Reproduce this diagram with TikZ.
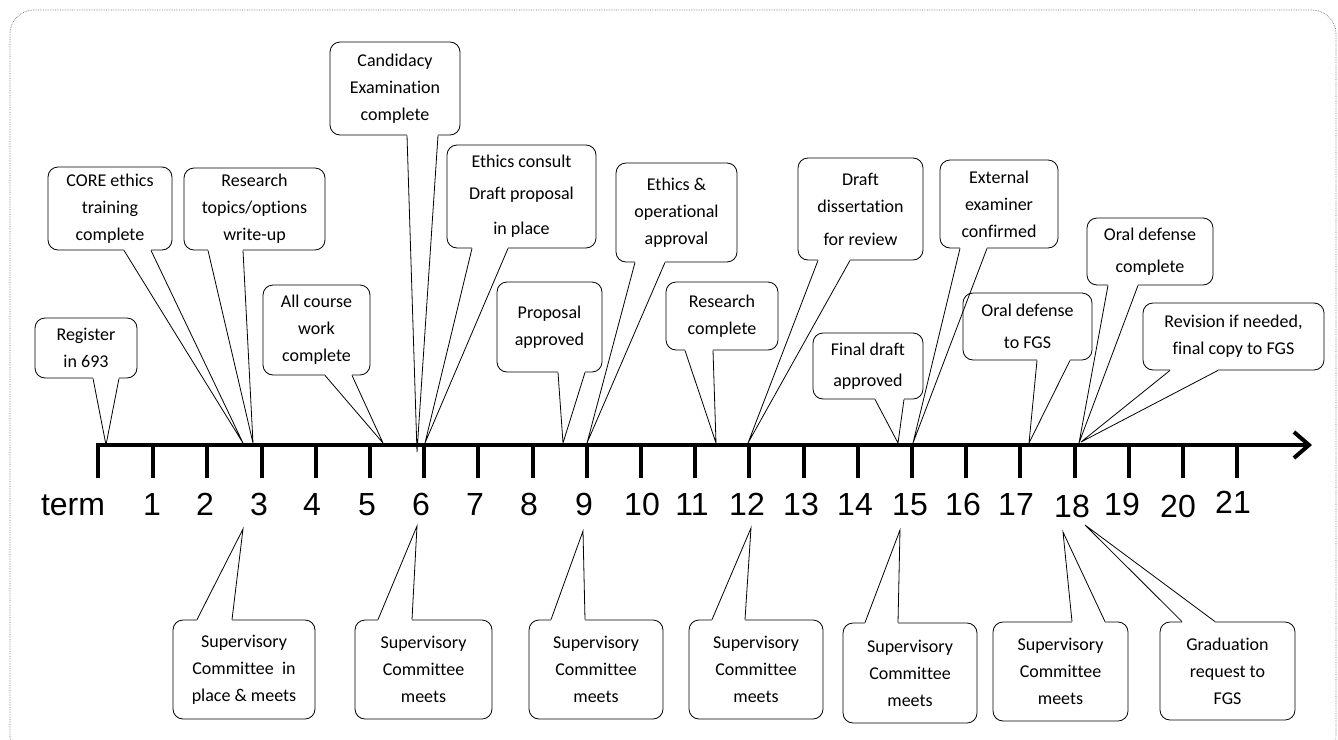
\documentclass[tikz,border=0pt]{standalone}
\usepackage{fontspec}
\setmainfont{Carlito}[Ligatures=CommonOff]
\newfontfamily\termfont{Liberation Sans}
\usetikzlibrary{arrows.meta}

\tikzset{
  bubble/.style={draw, rounded corners=10pt, fill=white, align=center, inner sep=0pt,
    line width=0.8pt, font=\fontsize{18}{27}\selectfont},
  gap/.style={draw=white, line width=2.4pt},
  ptr/.style={line width=0.8pt},
  num/.style={anchor=base, inner sep=0pt, font=\termfont\fontsize{32}{32}\selectfont},
  axis/.style={line width=4pt},
}

\begin{document}
\begin{tikzpicture}[x=1pt, y=-1pt]
  \useasboundingbox (0,0) rectangle (1338,739);
  \begin{scope}
    \clip (0,0) rectangle (1338,739);
    \draw[black!55, densely dotted, line width=0.7pt, rounded corners=24pt] (10,10) rectangle (1336,760);
  \end{scope}

  \draw[axis, -{Straight Barb[length=15pt,width=26pt]}] (98,478) -- (98,445) -- (1312,445);
  \foreach \k in {1,...,21}
    \draw[axis] (99+54.2*\k,447) -- (99+54.2*\k,478);

  \node[num] (term) at (73,515) {term};
  \foreach \k/\x/\y in {1/152/515, 2/205/515, 3/259/515, 4/312/515, 5/367/515, 6/421/515,
      7/475/515, 8/529/515, 9/584/515, 10/642/515, 11/692/515, 12/747/515, 13/801/515,
      14/855/515, 15/910/515, 16/963/515, 17/1016/515, 18/1072/517, 19/1122/515,
      20/1178/517, 21/1233/513}
    \node[num] (n\k) at (\x,\y) {\k};

  \coordinate (treg) at (106,445);
  \coordinate (tcore) at (243,443);
  \coordinate (ttopics) at (253,443);
  \coordinate (tcourse) at (383,443);
  \coordinate (tcand) at (417,452);
  \coordinate (tconsult) at (425,443);
  \coordinate (tprop) at (563,443);
  \coordinate (topapp) at (587,443);
  \coordinate (trescomp) at (716,443);
  \coordinate (tdraft) at (748,443);
  \coordinate (tfinal) at (898,443);
  \coordinate (textern) at (913,443);
  \coordinate (toralfgs) at (1029,443);
  \coordinate (toralcomp) at (1079,443);
  \coordinate (trevision) at (1081,442);
  \coordinate (tsup3) at (243,529);
  \coordinate (tsup6) at (417,526);
  \coordinate (tsup9) at (583,531);
  \coordinate (tsup12) at (751,528);
  \coordinate (tsup15) at (900,530);
  \coordinate (tsup18) at (1063,532);
  \coordinate (tgrad) at (1085,525);

  \node[bubble, minimum width=102, minimum height=60] (reg) at (86,348) {Register\\in 693};
  \node[bubble, minimum width=124, minimum height=83] (core) at (110,208.5) {CORE ethics\\training\\complete};
  \node[bubble, minimum width=141, minimum height=82] (topics) at (254.5,209) {Research\\topics/options\\write-up};
  \node[bubble, minimum width=107, minimum height=90] (course) at (316.5,330) {All course\\work\\complete};
  \node[bubble, minimum width=130, minimum height=93] (cand) at (395,88.5) {Candidacy\\Examination\\complete};
  \node[bubble, minimum width=149, minimum height=103] (consult) at (521.5,196.5) {Ethics consult\\[5pt]Draft proposal\\[8pt]in place};
  \node[bubble, minimum width=105, minimum height=90] (prop) at (549.5,327) {Proposal\\approved};
  \node[bubble, minimum width=121, minimum height=99] (opapp) at (676.5,212.5) {Ethics \&\\operational\\approval};
  \node[bubble, minimum width=112, minimum height=68] (rescomp) at (722,316) {Research\\complete};
  \node[bubble, minimum width=125, minimum height=102] (draft) at (860.5,209) {Draft\\dissertation\\[6pt]for review};
  \node[bubble, minimum width=110, minimum height=66] (final) at (868,366) {Final draft\\[4pt]approved};
  \node[bubble, minimum width=118, minimum height=88] (extern) at (999,204) {External\\examiner\\confirmed};
  \node[bubble, minimum width=129, minimum height=67] (oralfgs) at (1027.5,326.5) {Oral defense\\[5pt]to FGS};
  \node[bubble, minimum width=126, minimum height=67] (oralcomp) at (1150,251.5) {Oral defense\\[5pt]complete};
  \node[bubble, minimum width=181, minimum height=67] (revision) at (1233.5,336.5) {Revision if needed,\\final copy to FGS};

  \node[bubble, minimum width=142, minimum height=99] (sup3) at (244,669.5) {Supervisory\\Committee\ \ in\\place \& meets};
  \node[bubble, minimum width=137, minimum height=99] (sup6) at (423.5,669.5) {Supervisory\\Committee\\meets};
  \node[bubble, minimum width=134, minimum height=99] (sup9) at (596,669.5) {Supervisory\\Committee\\meets};
  \node[bubble, minimum width=134, minimum height=99] (sup12) at (756,669.5) {Supervisory\\Committee\\meets};
  \node[bubble, minimum width=134, minimum height=100] (sup15) at (910,673) {Supervisory\\Committee\\meets};
  \node[bubble, minimum width=135, minimum height=99] (sup18) at (1060.5,671.5) {Supervisory\\Committee\\meets};
  \node[bubble, minimum width=135, minimum height=98] (grad) at (1227.5,671) {Graduation\\request to\\FGS};

  \path[gap] (93,0 |- reg.south) -- (119,0 |- reg.south);
  \draw[ptr] (93,0 |- reg.south) -- (treg) -- (119,0 |- reg.south);
  \path[gap] (124,0 |- core.south) -- (151,0 |- core.south);
  \draw[ptr] (124,0 |- core.south) -- (tcore) -- (151,0 |- core.south);
  \path[gap] (208,0 |- topics.south) -- (243,0 |- topics.south);
  \draw[ptr] (208,0 |- topics.south) -- (ttopics) -- (243,0 |- topics.south);
  \path[gap] (325,0 |- course.south) -- (352,0 |- course.south);
  \draw[ptr] (325,0 |- course.south) -- (tcourse) -- (352,0 |- course.south);
  \path[gap] (407,0 |- cand.south) -- (438,0 |- cand.south);
  \draw[ptr] (407,0 |- cand.south) -- (tcand) -- (438,0 |- cand.south);
  \path[gap] (472,0 |- consult.south) -- (508,0 |- consult.south);
  \draw[ptr] (472,0 |- consult.south) -- (tconsult) -- (508,0 |- consult.south);
  \path[gap] (558,0 |- prop.south) -- (585,0 |- prop.south);
  \draw[ptr] (558,0 |- prop.south) -- (tprop) -- (585,0 |- prop.south);
  \path[gap] (635,0 |- opapp.south) -- (665,0 |- opapp.south);
  \draw[ptr] (635,0 |- opapp.south) -- (topapp) -- (665,0 |- opapp.south);
  \path[gap] (685,0 |- rescomp.south) -- (713,0 |- rescomp.south);
  \draw[ptr] (685,0 |- rescomp.south) -- (trescomp) -- (713,0 |- rescomp.south);
  \path[gap] (818,0 |- draft.south) -- (850,0 |- draft.south);
  \draw[ptr] (818,0 |- draft.south) -- (tdraft) -- (850,0 |- draft.south);
  \path[gap] (875,0 |- final.south) -- (904,0 |- final.south);
  \draw[ptr] (875,0 |- final.south) -- (tfinal) -- (904,0 |- final.south);
  \path[gap] (960,0 |- extern.south) -- (987,0 |- extern.south);
  \draw[ptr] (960,0 |- extern.south) -- (textern) -- (987,0 |- extern.south);
  \path[gap] (1037,0 |- oralfgs.south) -- (1070,0 |- oralfgs.south);
  \draw[ptr] (1037,0 |- oralfgs.south) -- (toralfgs) -- (1070,0 |- oralfgs.south);
  \path[gap] (1108,0 |- oralcomp.south) -- (1138,0 |- oralcomp.south);
  \draw[ptr] (1108,0 |- oralcomp.south) -- (toralcomp) -- (1138,0 |- oralcomp.south);
  \path[gap] (1170,0 |- revision.south) -- (1218,0 |- revision.south);
  \draw[ptr] (1170,0 |- revision.south) -- (trevision) -- (1218,0 |- revision.south);

  \path[gap] (197,0 |- sup3.north) -- (232,0 |- sup3.north);
  \draw[ptr] (197,0 |- sup3.north) -- (tsup3) -- (232,0 |- sup3.north);
  \path[gap] (378,0 |- sup6.north) -- (412,0 |- sup6.north);
  \draw[ptr] (378,0 |- sup6.north) -- (tsup6) -- (412,0 |- sup6.north);
  \path[gap] (551,0 |- sup9.north) -- (585,0 |- sup9.north);
  \draw[ptr] (551,0 |- sup9.north) -- (tsup9) -- (585,0 |- sup9.north);
  \path[gap] (712,0 |- sup12.north) -- (745,0 |- sup12.north);
  \draw[ptr] (712,0 |- sup12.north) -- (tsup12) -- (745,0 |- sup12.north);
  \path[gap] (865,0 |- sup15.north) -- (898,0 |- sup15.north);
  \draw[ptr] (865,0 |- sup15.north) -- (tsup15) -- (898,0 |- sup15.north);
  \path[gap] (1072,0 |- sup18.north) -- (1105,0 |- sup18.north);
  \draw[ptr] (1072,0 |- sup18.north) -- (tsup18) -- (1105,0 |- sup18.north);
  \path[gap] (1182,0 |- grad.north) -- (1215,0 |- grad.north);
  \draw[ptr] (1182,0 |- grad.north) -- (tgrad) -- (1215,0 |- grad.north);
\end{tikzpicture}
\end{document}
